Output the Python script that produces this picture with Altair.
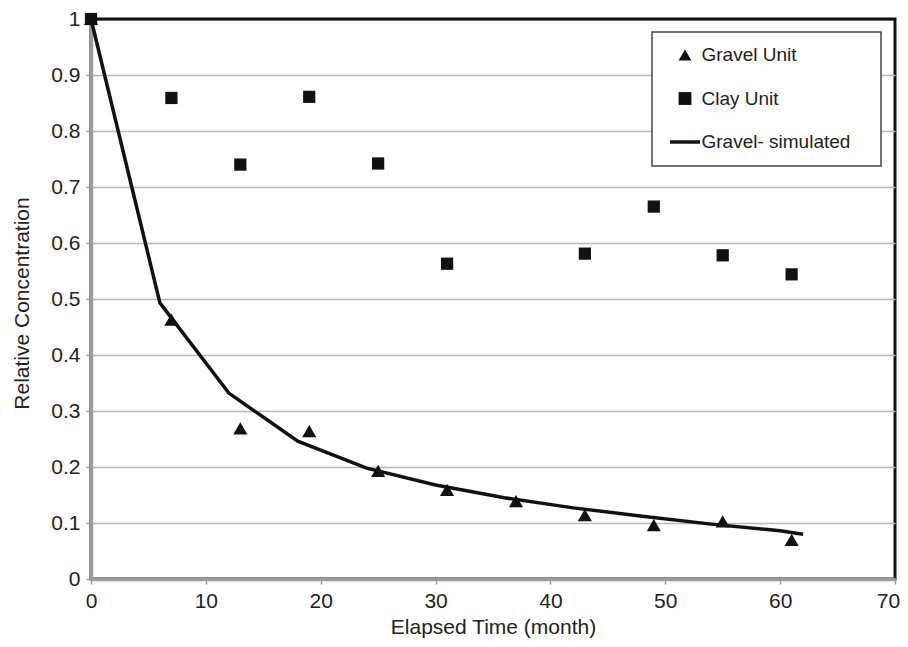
import altair as alt
import pandas as pd

# Observed data
gravel_x = [0, 7, 13, 19, 25, 31, 37, 43, 49, 55, 61]
gravel_y = [1.0, 0.463, 0.269, 0.264, 0.193, 0.159, 0.139, 0.114, 0.096, 0.103, 0.070]
clay_x = [0, 7, 13, 19, 25, 31, 43, 49, 55, 61]
clay_y = [1.0, 0.859, 0.740, 0.861, 0.742, 0.563, 0.581, 0.665, 0.578, 0.544]

# Simulated gravel curve
sim_x = [0, 6, 12, 18, 24, 30, 36, 42, 48, 54, 60, 62]
sim_y = [1.0, 0.493, 0.332, 0.246, 0.198, 0.168, 0.145, 0.127, 0.112, 0.098, 0.086, 0.080]

series_names = ["Gravel Unit", "Clay Unit", "Gravel- simulated"]
x_ticks = [0, 10, 20, 30, 40, 50, 60, 70]
y_ticks = [0, 0.1, 0.2, 0.3, 0.4, 0.5, 0.6, 0.7, 0.8, 0.9, 1]

gravel = pd.DataFrame({"t": gravel_x, "c": gravel_y, "series": series_names[0]})
clay = pd.DataFrame({"t": clay_x, "c": clay_y, "series": series_names[1]})
sim = pd.DataFrame({"t": sim_x, "c": sim_y})

FONT = "Liberation Sans"
GRAY = "#9c9c9c"

x_enc = alt.X("t:Q", scale=alt.Scale(domain=[0, 70], nice=False),
              axis=alt.Axis(title="Elapsed Time (month)", values=x_ticks, grid=False,
                            titleY=54, titleBaseline="alphabetic",
                            labelOffset={"condition": {"test": "datum.value >= 70", "value": -7},
                                         "value": 0}))
y_enc = alt.Y("c:Q", scale=alt.Scale(domain=[0, 1], nice=False),
              axis=alt.Axis(title="Relative Concentration", values=y_ticks, format="~g",
                            grid=True, titleX=-59, titleY=284,
                            gridColor={"condition": {"test": "datum.value >= 1", "value": "#111111"},
                                       "value": "#b8b8b8"}))

shape_enc = alt.Shape(
    "series:N",
    scale=alt.Scale(domain=series_names,
                    range=["triangle-up", "square", "M-2.34,-0.27H2.34V0.27H-2.34Z"]),
    legend=alt.Legend(title=".", titleOrient="right", titleOpacity=0, titlePadding=11,
                      orient="none", legendX=561, legendY=13, labelLimit=400),
)

line = alt.Chart(sim).mark_line(color="#111111", strokeWidth=3.5).encode(x=x_enc, y=y_enc)

gravel_pts = alt.Chart(gravel).mark_point(filled=True, color="#111111", opacity=1, size=200).encode(
    x=x_enc, y=y_enc, shape=shape_enc)
clay_pts = alt.Chart(clay).mark_point(filled=True, color="#111111", opacity=1, size=150).encode(
    x=x_enc, y=y_enc, shape=shape_enc)

chart = alt.layer(line, gravel_pts, clay_pts).properties(
    width=804, height=560,
    autosize=alt.AutoSizeParams(type="none"),
    padding={"left": 83, "top": 11, "right": 5, "bottom": 60},
).configure_view(
    stroke="#111111", strokeWidth=3
).configure_axis(
    domainColor=GRAY, domainWidth=3.5, tickColor=GRAY, tickWidth=1.5, tickSize=5,
    labelFont=FONT, labelFontSize=21, labelColor="#222222", labelPadding=6, labelFlush=False,
    titleFont=FONT, titleFontSize=21, titleFontWeight="normal", titleColor="#222222",
    gridWidth=1.5,
).configure_legend(
    padding=13.5, fillColor="white", strokeColor="#444444", strokeWidth=1.5,
    symbolSize=165, symbolFillColor="#111111", symbolStrokeWidth=0, symbolOffset=10,
    labelFont=FONT, labelFontSize=19, labelColor="#222222", labelOffset=7,
    titleFont=FONT, titleFontSize=19,
    rowPadding=23.5, cornerRadius=0,
)

chart.save("out.html", embed_options={"renderer": "svg", "actions": False})
